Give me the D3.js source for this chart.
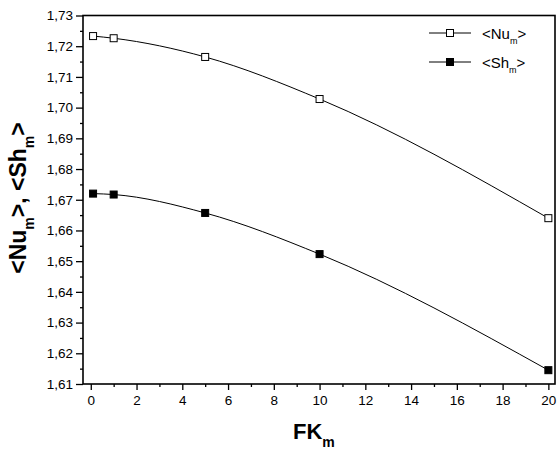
<!DOCTYPE html>
<html><head><meta charset="utf-8">
<script src="https://cdn.jsdelivr.net/npm/d3@7/dist/d3.min.js"></script>
<style>body{margin:0;background:#fff}text{font-family:"Liberation Sans",Arial,sans-serif}</style>
</head><body><svg id="c" width="557" height="460"></svg>
<script>
const fk = [0.1, 1, 5, 10, 20];
const nu = [1.7233, 1.7226, 1.7165, 1.7028, 1.6640];
const sh = [1.6720, 1.6717, 1.6657, 1.6523, 1.6145];
const xTicks = [0,2,4,6,8,10,12,14,16,18,20];
const yTicks = [1.61,1.62,1.63,1.64,1.65,1.66,1.67,1.68,1.69,1.70,1.71,1.72,1.73];

const svg = d3.select("#c");
const L=83, R=555, T=15.5, B=384;
const x = d3.scaleLinear().domain([-0.34, 20.29]).range([L,R]);
const y = d3.scaleLinear().domain([1.61, 1.73]).range([B,T]);
const fmt = d => d3.format(".2f")(d).replace(".", ",");

// frame
svg.append("rect").attr("x",L).attr("y",T).attr("width",R-L).attr("height",B-T)
  .attr("fill","none").attr("stroke","#000").attr("stroke-width",1.6);

// x axis
const xa = svg.append("g").attr("transform",`translate(0,${B})`)
  .call(d3.axisBottom(x).tickValues(xTicks).tickSize(6).tickPadding(5).tickFormat(d3.format("d")));
xa.select(".domain").remove();
xa.selectAll("line").attr("stroke-width",1.3);
xa.selectAll("text").attr("font-size",13.5).attr("fill","#000");
svg.append("g").attr("transform",`translate(0,${B})`)
  .call(d3.axisBottom(x).tickValues(d3.range(1,20,2)).tickSize(3).tickFormat(""))
  .call(g=>{g.select(".domain").remove();g.selectAll("line").attr("stroke-width",1.3);});

// y axis
const ya = svg.append("g").attr("transform",`translate(${L},0)`)
  .call(d3.axisLeft(y).tickValues(yTicks).tickSize(7).tickPadding(3).tickFormat(fmt));
ya.select(".domain").remove();
ya.selectAll("line").attr("stroke-width",1.3);
ya.selectAll("text").attr("font-size",13.5).attr("fill","#000");
svg.append("g").attr("transform",`translate(${L},0)`)
  .call(d3.axisLeft(y).tickValues(d3.range(12).map(i=>1.615+i*0.01)).tickSize(3).tickFormat(""))
  .call(g=>{g.select(".domain").remove();g.selectAll("line").attr("stroke-width",1.3);});

// lines
const line = d3.line().x(d=>x(d[0])).y(d=>y(d[1])).curve(d3.curveMonotoneX);
const series = [{v:nu, fill:"#fff"},{v:sh, fill:"#000"}];
series.forEach(s=>{
  const pts = fk.map((f,i)=>[f,s.v[i]]);
  svg.append("path").attr("d",line(pts)).attr("fill","none").attr("stroke","#000").attr("stroke-width",1);
  svg.selectAll(null).data(pts).enter().append("rect")
    .attr("x",d=>x(d[0])-3.5).attr("y",d=>y(d[1])-3.5).attr("width",7).attr("height",7)
    .attr("fill",s.fill).attr("stroke","#000").attr("stroke-width",1);
});

// legend
const leg = [{name:"Nu", fill:"#fff", y:33},{name:"Sh", fill:"#000", y:62}];
leg.forEach(l=>{
  svg.append("line").attr("x1",429).attr("x2",471).attr("y1",l.y).attr("y2",l.y).attr("stroke","#000");
  svg.append("rect").attr("x",450-3.5).attr("y",l.y-3.5).attr("width",7).attr("height",7)
    .attr("fill",l.fill).attr("stroke","#000");
  const t = svg.append("text").attr("x",482).attr("y",l.y+6).attr("font-size",15).attr("fill","#000");
  t.append("tspan").text("<"+l.name);
  t.append("tspan").attr("font-size",9).attr("dy",5).text("m");
  t.append("tspan").attr("dy",-5).text(">");
});

// x title
const xt = svg.append("text").attr("x",293).attr("y",439).attr("font-size",22).attr("font-weight","bold");
xt.append("tspan").text("FK");
xt.append("tspan").attr("font-size",14).attr("dy",8).text("m");

// y title
const yt = svg.append("text").attr("transform","translate(26,198) rotate(-90)")
  .attr("text-anchor","middle").attr("font-size",23).attr("font-weight","bold");
yt.append("tspan").text("<Nu");
yt.append("tspan").attr("font-size",14).attr("dy",8).text("m");
yt.append("tspan").attr("dy",-8).text(">, <Sh");
yt.append("tspan").attr("font-size",14).attr("dy",8).text("m");
yt.append("tspan").attr("dy",-8).text(">");
</script></body></html>
